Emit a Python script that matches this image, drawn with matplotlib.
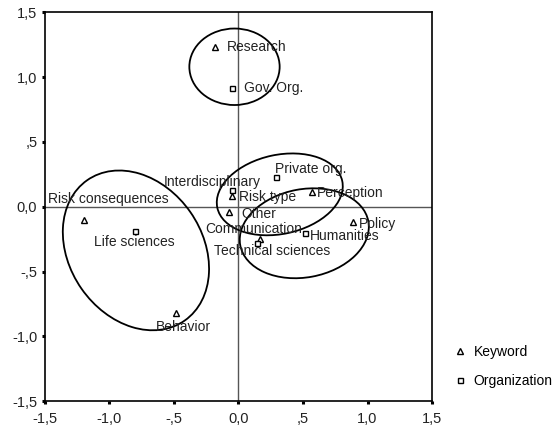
import matplotlib
matplotlib.use("Agg")
import matplotlib.pyplot as plt
from matplotlib.patches import Ellipse

plt.rcParams['font.family'] = ['Liberation Sans', 'DejaVu Sans']
plt.rcParams['font.size'] = 10

# Keyword points (triangles)
kw_labels = ["Research", "Risk type", "Perception", "Other", "Policy",
             "Communication", "Risk consequences", "Behavior"]
kw_x = [-0.186, -0.047, 0.566, -0.070, 0.884, 0.163, -1.200, -0.488]
kw_y = [1.230, 0.081, 0.112, -0.042, -0.120, -0.250, -0.104, -0.822]

# Organization points (squares)
org_labels = ["Gov. Org.", "Private org.", "Interdisciplinary", "Humanities",
              "Technical sciences", "Life sciences"]
org_x = [-0.047, 0.287, -0.054, 0.519, 0.140, -0.806]
org_y = [0.914, 0.228, 0.127, -0.204, -0.282, -0.189]

# Cluster ellipses: centre x, centre y, width, height, angle
ell_cx = [-0.031, -0.795, 0.320, 0.510]
ell_cy = [1.080, -0.336, 0.096, -0.204]
ell_w = [0.70, 1.32, 0.99, 1.01]
ell_h = [0.59, 1.03, 0.61, 0.68]
ell_a = [0, -55, 12, 10.5]

tick_vals = [-1.5, -1.0, -0.5, 0.0, 0.5, 1.0, 1.5]
tick_labels = ["-1,5", "-1,0", "-,5", "0,0", ",5", "1,0", "1,5"]

# label placement (pixel offsets, ha)
label_pos = {
    "Research": (12, 0, "left"),
    "Gov. Org.": (12, 0, "left"),
    "Interdisciplinary": (-19, 8, "center"),
    "Private org.": (-1, 8, "left"),
    "Risk type": (7, -1, "left"),
    "Perception": (5, -1, "left"),
    "Other": (12, -2, "left"),
    "Policy": (6, -2, "left"),
    "Humanities": (4, -3, "left"),
    "Communication": (-6, 10, "center"),
    "Technical sciences": (16, -8, "center"),
    "Risk consequences": (25, 21, "center"),
    "Life sciences": (0, -11, "center"),
    "Behavior": (8, -14, "center"),
}

fig = plt.figure(figsize=(5.54, 4.29), dpi=100)
ax = fig.add_axes([0.0812, 0.0645, 0.6986, 0.9068])
ax.set_xlim(-1.5, 1.5)
ax.set_ylim(-1.5, 1.5)

ax.axhline(0, color="#555555", lw=1.0, zorder=1)
ax.axvline(0, color="#555555", lw=1.0, zorder=1)

for cx, cy, w, h, a in zip(ell_cx, ell_cy, ell_w, ell_h, ell_a):
    ax.add_patch(Ellipse((cx, cy), w, h, angle=a, fill=False,
                         edgecolor="black", lw=1.3, zorder=2))

kw_line, = ax.plot(kw_x, kw_y, linestyle="none", marker="^", ms=5,
                   mfc="white", mec="black", mew=1.0, zorder=3)
org_line, = ax.plot(org_x, org_y, linestyle="none", marker="s", ms=3.6,
                    mfc="white", mec="black", mew=1.0, zorder=3)

for labs, xs, ys in ((kw_labels, kw_x, kw_y), (org_labels, org_x, org_y)):
    for lab, x, y in zip(labs, xs, ys):
        dx, dy, ha = label_pos[lab]
        ax.annotate(lab, (x, y), xytext=(dx, dy), textcoords="offset pixels",
                    ha=ha, va="center", fontsize=10, color="#222222", zorder=4)

ax.set_xticks(tick_vals)
ax.set_xticklabels(tick_labels)
ax.set_yticks(tick_vals)
ax.set_yticklabels(tick_labels)
ax.tick_params(direction="out", length=2, width=2.2, labelsize=10.5,
               labelcolor="#222222")
ax.tick_params(axis="x", pad=6)
ax.tick_params(axis="y", pad=3.5)
for s in ax.spines.values():
    s.set_linewidth(1.2)

fig.legend([kw_line, org_line], ["Keyword", "Organization"],
           loc="upper left", bbox_to_anchor=(0.820, 0.196), frameon=False,
           handlelength=0.8, handletextpad=0.6, labelspacing=1.1,
           borderaxespad=0, borderpad=0, numpoints=1, fontsize=10)

fig.savefig("out.png", dpi=100)
